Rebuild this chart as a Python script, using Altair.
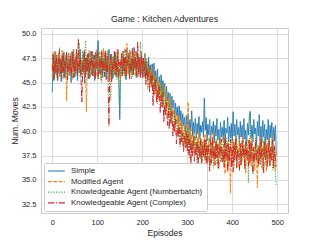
import altair as alt
import pandas as pd

series_names = [
    "Simple",
    "Modified Agent",
    "Knowledgeable Agent (Numberbatch)",
    "Knowledgeable Agent (Complex)",
]
colors = ["#1f77b4", "#ff7f0e", "#2ca02c", "#d62728"]
dashes = [[1, 0], [3.7, 1.6], [1, 1.65], [6.4, 1.6, 1, 1.6]]

episodes = list(range(0, 500, 2))

simple = [
    44.0, 47.5, 45.2, 48.2, 46.0, 47.1, 45.4, 48.0, 46.3, 47.4,
    45.1, 47.8, 46.2, 48.1, 45.5, 46.9, 47.7, 45.3, 48.0, 46.1,
    47.3, 45.0, 48.2, 46.4, 47.6, 45.6, 46.8, 48.3, 45.2, 47.0,
    46.0, 48.4, 45.7, 47.2, 46.5, 48.0, 44.9, 47.5, 46.1, 47.9,
    45.4, 47.1, 46.3, 48.2, 45.8, 46.9, 47.8, 45.2, 48.1, 46.4,
    47.2, 49.3, 45.9, 47.6, 46.0, 48.3, 45.5, 47.4, 46.7, 48.0,
    45.3, 47.2, 46.1, 48.4, 45.7, 46.8, 47.9, 45.4, 47.3, 46.2,
    48.1, 45.6, 47.0, 46.3, 45.0, 41.2, 46.4, 47.8, 45.9, 48.2,
    46.0, 47.4, 45.3, 48.5, 46.6, 47.0, 45.6, 48.1, 46.2, 47.5,
    45.8, 48.6, 46.4, 47.2, 45.5, 48.0, 46.9, 47.6, 45.7, 48.2,
    46.3, 47.5, 45.6, 48.0, 46.1, 47.2, 45.2, 47.6, 46.0, 46.8,
    44.9, 46.9, 45.3, 47.0, 44.6, 46.2, 45.0, 46.4, 43.9, 45.6,
    44.2, 45.8, 43.5, 45.2, 43.8, 44.9, 42.7, 44.6, 43.1, 44.0,
    42.2, 43.9, 41.8, 43.6, 42.4, 43.2, 41.3, 42.9, 41.6, 42.5,
    40.8, 42.6, 41.0, 42.1, 40.3, 41.8, 40.6, 41.4, 39.9, 41.6,
    40.2, 41.8, 39.6, 41.2, 40.0, 42.1, 39.5, 40.9, 39.8, 41.3,
    39.3, 40.8, 39.7, 41.5, 39.2, 40.6, 39.9, 41.0, 39.4, 43.4,
    40.1, 41.4, 39.0, 40.7, 39.6, 41.2, 38.9, 40.5, 39.7, 41.0,
    38.8, 40.6, 39.5, 41.3, 39.1, 40.2, 38.7, 40.9, 39.4, 40.4,
    39.0, 41.1, 38.6, 40.3, 39.8, 41.4, 38.9, 40.5, 39.3, 40.8,
    38.8, 42.0, 39.5, 40.7, 38.9, 41.2, 39.6, 40.4, 38.7, 41.0,
    39.4, 40.6, 38.8, 41.3, 39.2, 40.1, 38.5, 40.8, 39.6, 41.5,
    42.0, 39.3, 40.6, 38.9, 41.2, 39.7, 40.3, 38.6, 41.0, 39.5,
    41.7, 39.0, 40.5, 38.8, 41.1, 39.4, 40.7, 38.6, 40.2, 39.1,
    41.2, 38.7, 40.6, 39.3, 40.9, 38.5, 40.4, 39.0, 40.6, 37.6,
]
modified = [
    45.5, 47.9, 46.3, 48.2, 45.8, 47.4, 46.1, 48.0, 45.6, 47.2,
    46.4, 48.3, 45.3, 47.0, 46.6, 47.8, 43.1, 46.5, 47.9, 45.7,
    48.1, 46.0, 47.3, 45.4, 48.4, 46.2, 47.6, 45.9, 47.1, 46.5,
    48.0, 45.6, 47.4, 46.3, 48.2, 45.8, 47.0, 46.1, 42.0, 47.5,
    46.2, 48.3, 45.5, 47.7, 46.4, 48.0, 45.7, 47.2, 46.0, 48.4,
    45.6, 47.3, 46.5, 48.1, 45.2, 47.6, 46.3, 48.5, 45.9, 47.0,
    46.6, 48.2, 45.4, 47.5, 46.1, 47.9, 45.3, 46.8, 47.7, 45.8,
    47.2, 46.0, 48.3, 45.5, 47.4, 46.2, 45.1, 47.8, 46.4, 48.1,
    45.7, 47.3, 46.0, 49.0, 45.9, 47.6, 46.3, 48.2, 45.4, 47.1,
    46.5, 48.3, 45.8, 47.5, 46.1, 48.0, 45.6, 47.4, 46.7, 48.2,
    45.9, 47.3, 46.2, 47.9, 45.3, 47.0, 45.8, 46.6, 44.8, 46.3,
    45.0, 46.5, 44.3, 46.0, 44.8, 45.7, 43.6, 45.4, 44.0, 45.1,
    43.2, 44.9, 42.8, 44.3, 43.5, 44.6, 42.1, 43.8, 42.5, 43.4,
    41.6, 43.3, 41.0, 42.7, 41.5, 42.2, 40.6, 42.0, 40.8, 41.7,
    39.9, 41.6, 40.2, 41.1, 39.4, 40.8, 39.1, 40.6, 38.7, 40.2,
    38.6, 43.0, 38.9, 40.4, 38.2, 39.7, 37.8, 40.1, 38.4, 39.5,
    37.6, 39.3, 38.1, 40.0, 37.4, 39.2, 36.8, 38.9, 37.9, 39.6,
    37.2, 39.8, 36.9, 38.6, 37.7, 39.4, 36.5, 38.8, 37.3, 40.0,
    36.6, 38.5, 37.4, 39.1, 36.2, 38.7, 37.8, 39.3, 36.9, 38.2,
    37.5, 39.6, 35.6, 38.4, 37.0, 38.9, 36.4, 38.1, 33.6, 37.8,
    39.1, 36.8, 38.9, 37.4, 39.6, 36.2, 38.5, 37.8, 39.2, 36.5,
    38.0, 36.9, 39.4, 37.2, 38.6, 35.7, 38.3, 37.0, 39.2, 36.6,
    38.8, 36.4, 39.5, 37.3, 38.1, 36.0, 38.7, 37.5, 34.2, 38.4,
    36.9, 39.5, 37.1, 38.2, 36.0, 39.0, 37.6, 38.5, 35.9, 38.8,
    37.2, 39.3, 36.4, 38.1, 37.5, 39.6, 36.7, 38.4, 35.9, 37.8,
]
numberbatch = [
    46.8, 45.2, 47.6, 46.1, 48.0, 45.5, 47.3, 46.4, 48.6, 45.7,
    47.1, 45.9, 48.2, 46.3, 47.5, 45.4, 48.0, 46.6, 47.2, 45.8,
    46.9, 47.8, 45.3, 48.4, 46.2, 47.0, 45.7, 48.1, 46.5, 47.4,
    49.1, 46.0, 47.6, 45.6, 48.3, 46.4, 47.1, 49.3, 45.9, 47.7,
    46.3, 48.0, 45.5, 47.4, 46.7, 48.2, 45.8, 47.0, 46.1, 47.9,
    47.5, 45.8, 48.2, 46.6, 47.3, 45.0, 47.8, 46.2, 48.0, 45.6,
    47.4, 46.1, 48.3, 45.7, 46.9, 43.2, 46.4, 47.6, 45.5, 48.1,
    46.0, 47.7, 45.3, 48.2, 46.4, 41.9, 47.2, 45.7, 48.3, 46.0,
    47.6, 45.4, 48.0, 46.5, 47.2, 45.8, 48.4, 46.1, 47.5, 45.6,
    48.1, 46.3, 47.0, 45.5, 48.2, 46.6, 47.4, 45.9, 49.2, 46.8,
    46.0, 47.3, 45.4, 46.9, 45.7, 47.5, 44.3, 45.8, 46.6, 45.2,
    46.1, 44.4, 45.6, 43.6, 45.9, 44.2, 45.3, 42.8, 44.7, 43.8,
    44.5, 43.0, 44.9, 42.4, 43.9, 41.7, 43.2, 42.6, 43.7, 41.9,
    42.8, 40.8, 42.4, 41.4, 42.0, 40.0, 41.6, 40.7, 41.2, 39.6,
    40.8, 39.2, 40.6, 38.9, 40.2, 38.5, 39.9, 38.8, 40.4, 38.3,
    40.2, 37.8, 39.6, 38.1, 39.9, 37.2, 39.0, 38.3, 39.7, 37.5,
    38.9, 36.6, 39.4, 37.8, 38.6, 37.1, 39.2, 36.9, 38.4, 37.6,
    39.1, 35.2, 38.6, 37.0, 39.3, 36.4, 38.1, 37.6, 39.0, 36.2,
    38.5, 37.3, 39.2, 36.6, 38.0, 37.4, 39.5, 36.8, 38.3, 37.1,
    39.0, 36.5, 38.7, 37.7, 39.4, 36.3, 38.2, 37.2, 38.9, 36.7,
    37.1, 39.2, 36.3, 38.4, 37.7, 39.5, 36.8, 38.0, 37.3, 38.8,
    36.5, 39.0, 37.4, 38.3, 36.1, 39.3, 37.6, 38.6, 34.7, 38.1,
    42.1, 37.3, 38.9, 35.8, 38.2, 36.9, 39.3, 37.0, 38.6, 36.4,
    38.8, 37.2, 39.1, 36.2, 38.5, 37.5, 39.4, 36.6, 38.0, 37.3,
    39.0, 36.8, 38.3, 37.6, 39.2, 36.0, 38.4, 37.1, 35.5, 34.3,
]
complex_ = [
    46.2, 48.1, 45.4, 47.3, 46.0, 47.9, 45.2, 46.7, 48.3, 45.9,
    47.4, 46.1, 48.0, 45.6, 47.2, 46.5, 48.2, 45.3, 47.0, 46.3,
    47.8, 45.7, 46.9, 48.1, 45.5, 47.3, 46.2, 48.4, 45.8, 49.5,
    46.4, 47.6, 45.2, 43.0, 47.1, 46.0, 48.3, 45.6, 47.5, 46.2,
    48.0, 45.4, 47.2, 46.6, 48.2, 45.7, 46.9, 47.8, 45.3, 47.4,
    48.0, 45.3, 46.8, 47.5, 45.9, 48.1, 46.3, 47.2, 45.6, 48.3,
    46.1, 47.7, 45.4, 40.5, 46.6, 47.9, 45.1, 47.0, 46.4, 48.2,
    45.8, 47.3, 46.0, 48.4, 45.5, 47.1, 46.5, 48.0, 45.7, 47.6,
    46.2, 48.4, 45.6, 47.2, 46.8, 48.1, 45.4, 47.0, 46.3, 48.6,
    45.9, 47.5, 46.5, 48.2, 45.7, 49.2, 46.0, 47.4, 45.5, 47.8,
    45.4, 47.6, 46.2, 47.1, 44.8, 46.5, 45.3, 46.9, 44.0, 45.7,
    44.6, 46.0, 42.6, 44.9, 43.8, 45.3, 42.9, 44.2, 43.2, 44.6,
    41.9, 43.6, 42.5, 43.9, 41.0, 42.7, 41.6, 43.0, 40.6, 42.3,
    40.2, 41.8, 40.8, 42.0, 39.5, 40.9, 39.9, 41.3, 38.7, 40.3,
    39.4, 40.6, 38.4, 40.1, 38.9, 39.8, 37.9, 39.5, 38.3, 39.9,
    37.9, 39.7, 37.3, 39.2, 36.6, 38.8, 37.5, 39.5, 36.9, 38.4,
    37.6, 39.0, 36.1, 38.5, 37.2, 39.3, 36.7, 38.6, 37.4, 39.1,
    37.0, 39.1, 36.4, 38.6, 37.8, 35.9, 38.9, 36.7, 39.4, 37.2,
    38.3, 36.5, 39.0, 37.3, 38.7, 36.1, 38.4, 37.6, 39.2, 36.8,
    38.0, 36.3, 39.3, 37.1, 38.6, 35.8, 38.8, 37.0, 39.2, 36.3,
    38.3, 35.8, 38.8, 37.0, 39.2, 36.3, 38.1, 37.4, 35.9, 38.7,
    36.6, 39.0, 37.5, 38.4, 36.2, 38.9, 37.3, 38.1, 36.4, 39.1,
    36.8, 39.0, 37.5, 35.6, 38.4, 36.9, 39.1, 37.2, 38.0, 36.4,
    38.5, 36.6, 39.2, 37.4, 38.2, 35.7, 38.9, 37.1, 38.6, 36.3,
    37.9, 39.0, 36.5, 38.4, 37.0, 39.1, 36.2, 38.5, 37.3, 36.4,
]

all_values = [simple, modified, numberbatch, complex_]
rows = []
for name, vals in zip(series_names, all_values):
    for e, v in zip(episodes, vals):
        rows.append({"Episode": e, "Moves": v, "Agent": name})
df = pd.DataFrame(rows)

FONT = "Liberation Sans"

legend = alt.Legend(
    orient="none", legendX=3, legendY=135, title=None,
    fillColor="white", strokeColor="#cccccc", padding=4, cornerRadius=2,
    symbolType="M-2.8,0L2.8,0", symbolSize=36, symbolStrokeWidth=1.2,
    symbolOffset=4.5, labelOffset=10.5,
    labelFontSize=7.9, labelFont=FONT, labelColor="#262626",
    rowPadding=2.6,
)

xenc = alt.X("Episode:Q", title="Episodes",
             scale=alt.Scale(domain=[-25, 524], nice=False, zero=False),
             axis=alt.Axis(values=[0, 100, 200, 300, 400, 500], labelPadding=5, titlePadding=3))
yenc = alt.Y("Moves:Q", title="Num. Moves",
             scale=alt.Scale(domain=[31.6, 50.6], nice=False, zero=False),
             axis=alt.Axis(values=[32.5, 35.0, 37.5, 40.0, 42.5, 45.0, 47.5, 50.0],
                           format=".1f", labelPadding=5, titlePadding=2))
cenc = alt.Color("Agent:N", scale=alt.Scale(domain=series_names, range=colors), legend=legend)
denc = alt.StrokeDash("Agent:N", scale=alt.Scale(domain=series_names, range=dashes), legend=legend)

layers = []
for name in series_names:
    layers.append(
        alt.Chart(df).transform_filter(alt.datum.Agent == name)
        .mark_line(strokeWidth=1)
        .encode(x=xenc, y=yenc, color=cenc, strokeDash=denc, order="Episode:Q")
    )

chart = alt.layer(*layers).properties(
    width=247, height=185,
    title=alt.TitleParams("Game : Kitchen Adventures", font=FONT, fontSize=8.8,
                          fontWeight="normal", color="#262626", offset=4),
    autosize=alt.AutoSizeParams(type="none"),
    padding={"left": 33, "top": 20, "right": 16, "bottom": 28},
).configure_view(stroke="#cccccc", strokeWidth=1).configure_axis(
    grid=True, gridColor="#dddddd", gridWidth=1, ticks=False, domain=False,
    labelFont=FONT, labelFontSize=7.5, labelColor="#262626",
    titleFont=FONT, titleFontSize=8.5, titleFontWeight="normal", titleColor="#262626",
)

chart.save("out.html", embed_options={"renderer": "svg", "actions": False})
